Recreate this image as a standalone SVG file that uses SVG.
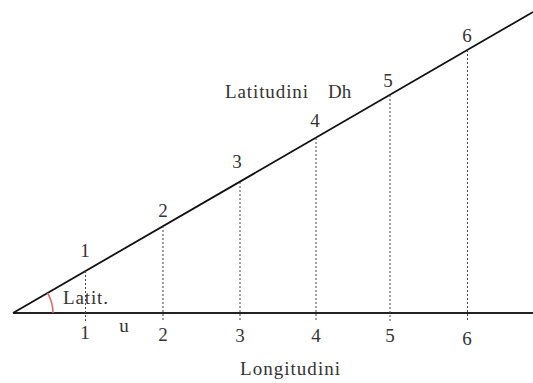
<svg xmlns="http://www.w3.org/2000/svg" width="533" height="383" viewBox="0 0 533 383">
<style>
.t{font-family:"Liberation Serif","Times New Roman",serif;font-size:19px;fill:#333}
.n{text-anchor:middle}
.d{stroke:#444;stroke-width:1;stroke-dasharray:2,2;fill:none}
</style>
<rect width="533" height="383" fill="#fff"/>
<g id="connectors">
<line x1="13" y1="313" x2="533" y2="313" stroke="#222" stroke-width="2.2"/>
<line x1="13" y1="313" x2="533" y2="12" stroke="#111" stroke-width="1.8"/>
<line class="d" x1="85.5" y1="271" x2="85.5" y2="322"/>
<line class="d" x1="163" y1="226" x2="163" y2="322"/>
<line class="d" x1="240" y1="182" x2="240" y2="322"/>
<line class="d" x1="316" y1="138" x2="316" y2="322"/>
<line class="d" x1="390" y1="95" x2="390" y2="322"/>
<line class="d" x1="467.5" y1="50" x2="467.5" y2="322"/>
<path d="M53 313 A40 40 0 0 0 47.6 293" fill="none" stroke="#e06666" stroke-width="1.5"/>
</g>
<g id="upper-labels">
<text class="t n" x="85" y="257">1</text>
<text class="t n" x="163" y="217">2</text>
<text class="t n" x="237" y="168">3</text>
<text class="t n" x="315" y="127">4</text>
<text class="t n" x="388" y="87">5</text>
<text class="t n" x="467" y="42">6</text>
</g>
<g id="lower-labels">
<text class="t n" x="85" y="339">1</text>
<text class="t n" x="163" y="341">2</text>
<text class="t n" x="240" y="342">3</text>
<text class="t n" x="316" y="342">4</text>
<text class="t n" x="390" y="342">5</text>
<text class="t n" x="467" y="345">6</text>
<text class="t n" x="124" y="332">u</text>
</g>
<g id="titles">
<text class="t" x="63" y="304" textLength="45">Latit.</text>
<text class="t" x="225" y="98" textLength="83">Latitudini</text>
<text class="t" x="328" y="98">Dh</text>
<text class="t n" x="290" y="375" textLength="100">Longitudini</text>
</g>
</svg>
